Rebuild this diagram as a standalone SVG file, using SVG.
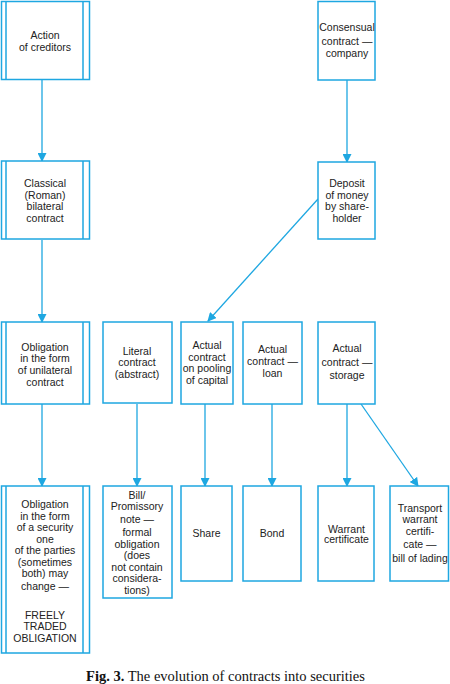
<svg xmlns="http://www.w3.org/2000/svg" width="450" height="684" viewBox="0 0 450 684">
<style>
.b{fill:#fff;stroke:#1ea7e1;stroke-width:1.5}
.v{stroke:#1ea7e1;stroke-width:1.5;fill:none}
.c{stroke:#1ea7e1;stroke-width:1.3;fill:none;marker-end:url(#ah)}
text{font-family:"Liberation Sans",Arial,sans-serif;font-size:10.5px;fill:#222;text-anchor:middle}
.cap{font-family:"Liberation Serif","Times New Roman",serif;font-size:14.5px;fill:#111}
</style>
<defs>
<marker id="ah" markerWidth="9" markerHeight="9" refX="8" refY="4.5" orient="auto" markerUnits="userSpaceOnUse">
<path d="M0,0 L9,4.5 L0,9 Z" fill="#1ea7e1"/>
</marker>
</defs>
<g id="connectors">
<line class="c" x1="42" y1="80" x2="42" y2="161"/>
<line class="c" x1="42" y1="240" x2="42" y2="322"/>
<line class="c" x1="42" y1="404" x2="42" y2="486"/>
<line class="c" x1="347" y1="80" x2="347" y2="162"/>
<line class="c" x1="318" y1="199" x2="208" y2="321"/>
<line class="c" x1="137" y1="404" x2="137" y2="486"/>
<line class="c" x1="205" y1="404" x2="205" y2="486"/>
<line class="c" x1="272" y1="404" x2="272" y2="486"/>
<line class="c" x1="347" y1="404" x2="347" y2="486"/>
<line class="c" x1="361" y1="404" x2="418" y2="486"/>
</g>
<g id="n1">
<rect class="b" x="1.5" y="1.5" width="88" height="78"/>
<path class="v" d="M6,1.5 V79.5 M83,1.5 V79.5"/>
<text x="45" y="39">Action</text>
<text x="45" y="50.5">of creditors</text>
</g>
<g id="n2">
<rect class="b" x="1.5" y="161" width="88" height="78"/>
<path class="v" d="M6,161 V239 M83,161 V239"/>
<text x="45" y="187">Classical</text>
<text x="45" y="198.7">(Roman)</text>
<text x="45" y="210.4">bilateral</text>
<text x="45" y="222">contract</text>
</g>
<g id="n3">
<rect class="b" x="1.5" y="322" width="88" height="82"/>
<path class="v" d="M6,322 V404 M83,322 V404"/>
<text x="45" y="350.5">Obligation</text>
<text x="45" y="362.2">in the form</text>
<text x="45" y="373.9">of unilateral</text>
<text x="45" y="385.6">contract</text>
</g>
<g id="n4">
<rect class="b" x="1.5" y="486" width="88" height="167"/>
<path class="v" d="M6,486 V653 M83,486 V653"/>
<text x="45" y="508.3">Obligation</text>
<text x="45" y="519.8">in the form</text>
<text x="45" y="531.3">of a security</text>
<text x="45" y="542.8">one</text>
<text x="45" y="554.2">of the parties</text>
<text x="45" y="565.7">(sometimes</text>
<text x="45" y="577">both) may</text>
<text x="45" y="589.7">change —</text>
<text x="45" y="619">FREELY</text>
<text x="45" y="630.3">TRADED</text>
<text x="45" y="641.6">OBLIGATION</text>
</g>
<g id="n5">
<rect class="b" x="318" y="1.5" width="57" height="78.5"/>
<text x="347" y="30.5">Consensual</text>
<text x="347" y="44.5">contract —</text>
<text x="347" y="57.3">company</text>
</g>
<g id="n6">
<rect class="b" x="318" y="162" width="57" height="77"/>
<text x="347" y="187.3">Deposit</text>
<text x="347" y="199">of money</text>
<text x="347" y="210.3">by share-</text>
<text x="347" y="221.7">holder</text>
</g>
<g id="n7">
<rect class="b" x="103" y="322" width="69" height="81"/>
<text x="137" y="354.7">Literal</text>
<text x="137" y="366.3">contract</text>
<text x="137" y="377.5">(abstract)</text>
</g>
<g id="n8">
<rect class="b" x="181" y="322" width="52" height="82"/>
<text x="207" y="349">Actual</text>
<text x="207" y="360.7">contract</text>
<text x="207" y="372.2">on pooling</text>
<text x="207" y="383.7">of capital</text>
</g>
<g id="n9">
<rect class="b" x="243" y="322" width="59" height="82"/>
<text x="272.5" y="353.3">Actual</text>
<text x="272.5" y="365">contract —</text>
<text x="272.5" y="376.7">loan</text>
</g>
<g id="n10">
<rect class="b" x="318" y="322" width="57" height="82"/>
<text x="347" y="352.3">Actual</text>
<text x="347" y="366.3">contract —</text>
<text x="347" y="379">storage</text>
</g>
<g id="n11">
<rect class="b" x="103" y="486" width="69" height="112"/>
<text x="137" y="499">Bill/</text>
<text x="137" y="509.7">Promissory</text>
<text x="137" y="523.3">note —</text>
<text x="137" y="536.3">formal</text>
<text x="137" y="548">obligation</text>
<text x="137" y="559">(does</text>
<text x="137" y="570.7">not contain</text>
<text x="137" y="582.3">considera-</text>
<text x="137" y="594">tions)</text>
</g>
<g id="n12">
<rect class="b" x="181" y="486" width="51" height="95"/>
<text x="206.5" y="536.7">Share</text>
</g>
<g id="n13">
<rect class="b" x="243" y="486" width="58" height="95"/>
<text x="272" y="536.7">Bond</text>
</g>
<g id="n14">
<rect class="b" x="318" y="486" width="56" height="95"/>
<text x="346.5" y="532.7">Warrant</text>
<text x="346.5" y="543.3">certificate</text>
</g>
<g id="n15">
<rect class="b" x="390" y="486" width="58.5" height="95"/>
<text x="420" y="511.7">Transport</text>
<text x="420" y="523.3">warrant</text>
<text x="420" y="534.7">certifi-</text>
<text x="420" y="548">cate —</text>
<text x="420" y="561.7">bill of lading</text>
</g>
<text class="cap" x="225.5" y="680.5"><tspan font-weight="bold">Fig. 3.</tspan> The evolution of contracts into securities</text>
</svg>
